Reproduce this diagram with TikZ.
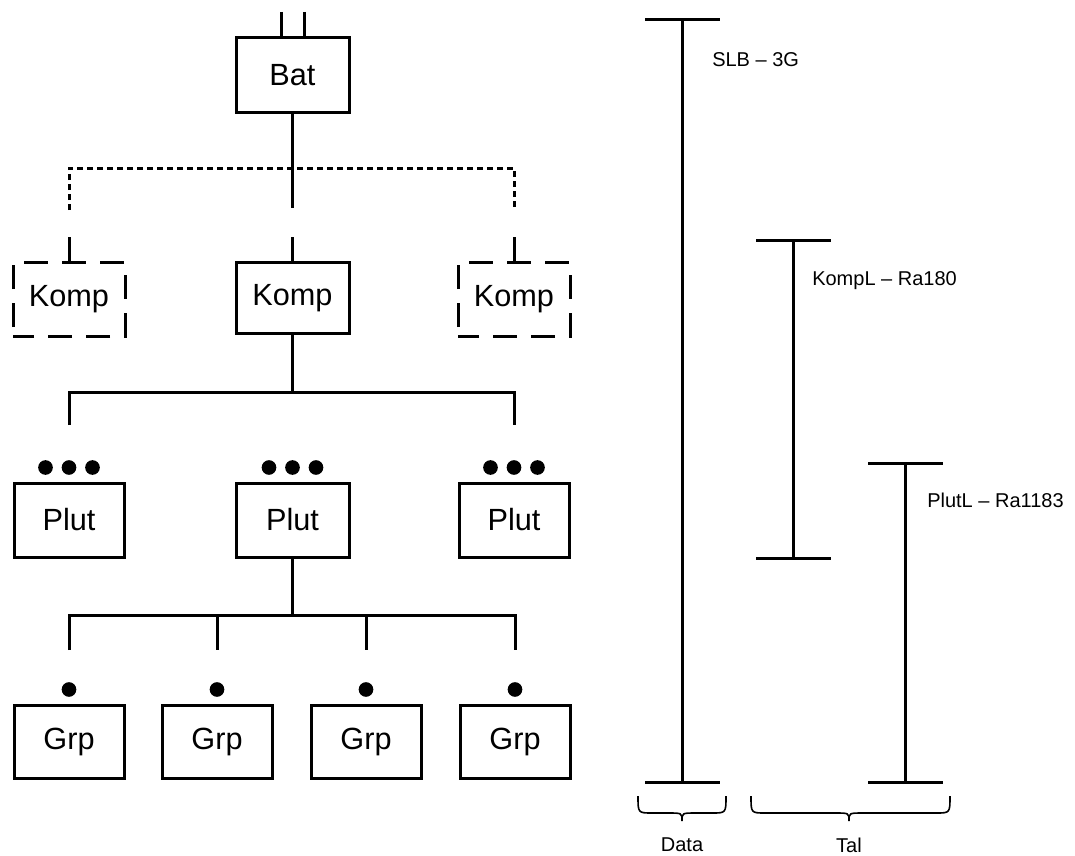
\documentclass[tikz,border=0pt]{standalone}
\usepackage{fontspec}
\setmainfont{Liberation Sans}
\begin{document}
\begin{tikzpicture}[x=0.75pt,y=-0.75pt,
  box/.style={draw,line width=2.25pt,minimum width=82.5pt,inner sep=0pt,font=\fontsize{23}{27}\selectfont},
  dbox/.style={box,draw=none,outer sep=0pt,minimum width=84pt},
  dashedge/.style={line width=2.25pt,dash pattern=on 18pt off 10.5pt,dash phase=21.75pt},
  dotn/.style={circle,fill=black,inner sep=0pt,minimum size=11pt},
  lbl/.style={font=\fontsize{15}{18}\selectfont,anchor=west,inner sep=0pt},
  blbl/.style={font=\fontsize{15}{18}\selectfont,inner sep=0pt},
  conn/.style={line width=2.25pt},
  dconn/.style={line width=2.25pt,dash pattern=on 4.5pt off 3pt},
  brc/.style={line width=1.2pt}
]
\useasboundingbox (0,0) rectangle (1075,856);

% Bat
\node[box,minimum width=84.75pt,minimum height=56.25pt] (bat) at (292.5,75.5) {Bat};
\coordinate (p1) at (281,12);
\coordinate (p2) at (304,12);
\draw[conn] (p1) -- (p1 |- bat.north);
\draw[conn] (p2) -- (p2 |- bat.north);

% Komp row
\node[dbox,minimum height=55.5pt] (k1) at (69,299) {Komp};
\node[box,minimum width=84.75pt,minimum height=53.25pt] (k2) at (292.5,298) {Komp};
\node[dbox,minimum height=55.5pt] (k3) at (514,299) {Komp};
\foreach \k in {k1,k3}{
  \draw[dashedge] (\k.south west) -- (\k.north west) -- (\k.north east) -- (\k.south east) -- cycle;
}

\coordinate (bj) at (292.5,208);
\coordinate (dl) at (69,168);
\coordinate (dr) at (514,168);
\draw[conn] (bat.south) -- (bj);
\draw[dconn] (69,210) -- (dl) -- (dr) -- (514,210);
\foreach \k in {k1,k2,k3}{
  \draw[conn] (\k.north) -- (\k.north |- 0,237);
}

% Plut row
\node[box,minimum height=55.5pt] (pl1) at (69,520) {Plut};
\node[box,minimum width=84.75pt,minimum height=55.5pt] (pl2) at (292.5,520) {Plut};
\node[box,minimum height=55.5pt] (pl3) at (514,520) {Plut};

\coordinate (kj) at (292.5,392);
\draw[conn] (k2.south) -- (kj);
\draw[conn] (69,425) -- (69,392) -- (514,392) -- (514,425);

\foreach \p [count=\i] in {pl1,pl2,pl3}{
  \node[dotn] (d\i a) at ([xshift=-23.5*0.75pt,yshift=14*0.75pt]\p.north) {};
  \node[dotn] (d\i b) at ([yshift=14*0.75pt]\p.north) {};
  \node[dotn] (d\i c) at ([xshift=23.5*0.75pt,yshift=14*0.75pt]\p.north) {};
}

% Grp row
\node[box,minimum height=54.75pt] (g1) at (69,741.5) {Grp};
\node[box,minimum height=54.75pt] (g2) at (217,741.5) {Grp};
\node[box,minimum height=54.75pt] (g3) at (366,741.5) {Grp};
\node[box,minimum height=54.75pt] (g4) at (515,741.5) {Grp};

\coordinate (pj) at (292.5,615);
\draw[conn] (pl2.south) -- (pj);
\draw[conn] (69,650) -- (69,615) -- (515,615) -- (515,650);
\draw[conn] (217,615) -- (217,650);
\draw[conn] (366,615) -- (366,650);
\foreach \g in {g1,g2,g3,g4}{
  \node[dotn] (dot\g) at ([yshift=14*0.75pt]\g.north) {};
}

% Right scale bars
\coordinate (s1) at (682.5,20);
\coordinate (s2) at (682.5,782);
\draw[conn] (s1) -- (s2);
\draw[conn] (645,20) -- (720,20);
\draw[conn] (645,782) -- (720,782);
\node[lbl] (slb) at (712,60) {SLB – 3G};

\coordinate (k1t) at (793.5,240);
\coordinate (k1b) at (793.5,558);
\draw[conn] (k1t) -- (k1b);
\draw[conn] (756,240) -- (831,240);
\draw[conn] (756,558) -- (831,558);
\node[lbl] (kompl) at (812,281) {KompL – Ra180};

\coordinate (p1t) at (905.5,463);
\coordinate (p1b) at (905.5,782);
\draw[conn] (p1t) -- (p1b);
\draw[conn] (868,463) -- (943,463);
\draw[conn] (868,782) -- (943,782);
\node[lbl] (plutl) at (927,500) {PlutL – Ra1183};

% Braces
\draw[brc] (638,796) .. controls (638,813) .. (652,813) -- (668,813)
  .. controls (682,813) .. (682,821) .. controls (682,813) .. (696,813)
  -- (712,813) .. controls (726,813) .. (726,796);
\draw[brc] (751,796) .. controls (751,813) .. (765,813) -- (835,813)
  .. controls (849,813) .. (849,821) .. controls (849,813) .. (863,813)
  -- (936,813) .. controls (950,813) .. (950,796);
\node[blbl] (data) at (682,845) {Data};
\node[blbl] (tal) at (849,845) {Tal};
\end{tikzpicture}
\end{document}
